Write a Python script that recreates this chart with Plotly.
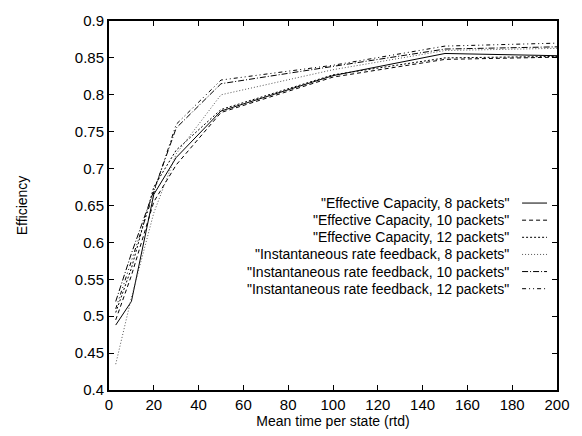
import plotly.graph_objects as go

# ---- data ----
mean_time = [3, 10, 20, 30, 50, 100, 150, 200]
ec_8 = [0.488, 0.520, 0.665, 0.715, 0.778, 0.826, 0.856, 0.853]
ec_10 = [0.495, 0.555, 0.655, 0.705, 0.776, 0.824, 0.848, 0.851]
ec_12 = [0.505, 0.565, 0.675, 0.725, 0.780, 0.827, 0.850, 0.852]
irf_8 = [0.435, 0.525, 0.640, 0.720, 0.800, 0.834, 0.860, 0.863]
irf_10 = [0.520, 0.585, 0.670, 0.755, 0.815, 0.838, 0.862, 0.865]
irf_12 = [0.510, 0.575, 0.665, 0.760, 0.820, 0.840, 0.866, 0.870]

series_names = [
    '"Effective Capacity, 8 packets"',
    '"Effective Capacity, 10 packets"',
    '"Effective Capacity, 12 packets"',
    '"Instantaneous rate feedback, 8 packets"',
    '"Instantaneous rate feedback, 10 packets"',
    '"Instantaneous rate feedback, 12 packets"',
]
series_values = [ec_8, ec_10, ec_12, irf_8, irf_10, irf_12]
x_ticks = [0, 20, 40, 60, 80, 100, 120, 140, 160, 180, 200]
y_ticks = [0.4, 0.45, 0.5, 0.55, 0.6, 0.65, 0.7, 0.75, 0.8, 0.85, 0.9]

# ---- styles ----
dashes = ["solid", "4px,3px", "2px,2px", "1px,2px", "6px,2px,1px,2px", "4px,3px,1px,3px,1px,3px"]
colors = ["#000000", "#000000", "#000000", "#555555", "#000000", "#000000"]
FONT = "Liberation Sans, Arial, Helvetica"

W, H = 582, 436
L, R, T, B = 109, 24, 13, 46
pw, ph = W - L - R, H - T - B

fig = go.Figure()
for name, vals, d, c in zip(series_names, series_values, dashes, colors):
    fig.add_trace(go.Scatter(x=mean_time, y=vals, mode="lines", name=name,
                             line=dict(color=c, width=1, dash=d), showlegend=False))

# manual gnuplot-style legend (text then sample on right)
def px2paper(px, py):
    return (px - L) / pw, (H - B - py) / ph

legend_y = [199, 216.5, 234, 251.5, 269, 286.5]
for name, d, c, ly in zip(series_names, dashes, colors, legend_y):
    tx, ty = px2paper(512, ly)
    fig.add_annotation(x=tx, y=ty, xref="paper", yref="paper", text=name,
                       showarrow=False, xanchor="right", yanchor="middle",
                       font=dict(family=FONT, size=14, color="black"))
    x0, y0 = px2paper(523, ly)
    x1, _ = px2paper(548, ly)
    fig.add_shape(type="line", xref="paper", yref="paper", x0=x0, x1=x1, y0=y0, y1=y0,
                  line=dict(color=c, width=1, dash=d))

axis_common = dict(showline=True, linecolor="black", linewidth=2, mirror="ticks",
                   ticks="inside", ticklen=5, tickcolor="black", tickwidth=1,
                   showgrid=False, zeroline=False,
                   tickfont=dict(family=FONT, size=15, color="black"))

fig.update_layout(
    width=W, height=H,
    margin=dict(l=L, r=R, t=T, b=B),
    paper_bgcolor="white", plot_bgcolor="white",
    xaxis=dict(range=[0, 200], tickvals=x_ticks, ticktext=[str(v) for v in x_ticks],
               title=dict(text="Mean time per state (rtd)", standoff=0,
                          font=dict(family=FONT, size=14, color="black")),
               **axis_common),
    yaxis=dict(range=[0.4, 0.9], tickvals=y_ticks,
               ticktext=[("%g" % v) for v in y_ticks],
               title=dict(text="Efficiency", standoff=44,
                          font=dict(family=FONT, size=14, color="black")),
               **axis_common),
)

fig.write_html("out.html")
